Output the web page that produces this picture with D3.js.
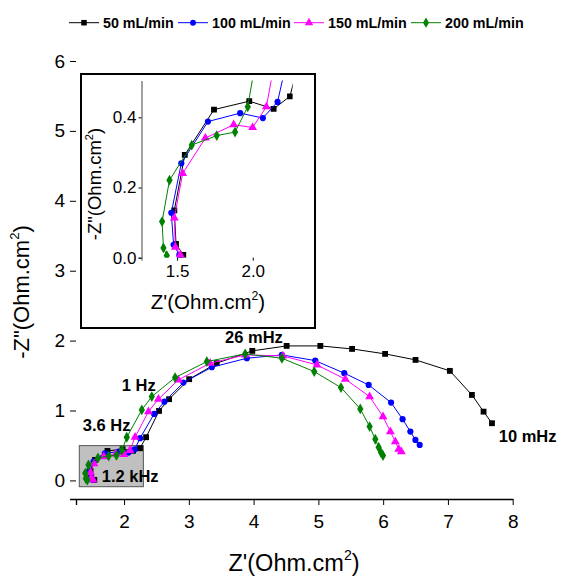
<!DOCTYPE html>
<html lang="en">
  <head>
    <meta charset="utf-8">
    <title>Nyquist plot</title>
    <style>
      body { margin: 0; background: #fff; }
      svg { font-family: Arial, "Liberation Sans", Helvetica, sans-serif; }
    </style>
  </head>
  <body>
    <div class="graph"></div>
    <script src="https://d3js.org/d3.v7.min.js"></script>
    <script>
      // flow rates
      var seriesNames = ['50 mL/min', '100 mL/min', '150 mL/min', '200 mL/min'];
      var seriesColors = ['#000000', '#0000ff', '#ff00ff', '#008000'];
      var seriesSymbols = [d3.symbolSquare, d3.symbolCircle, d3.symbolTriangle, d3.symbolDiamond];

      // Z' and -Z'' (Ohm.cm2), high frequency first
      var zre50 = [1.541, 1.493, 1.482, 1.551, 1.744, 1.977, 2.138, 2.246, 2.34, 2.54, 2.695, 3.005, 3.43, 3.98, 4.51, 5.03, 5.52, 6.03, 6.50, 7.03, 7.37, 7.55, 7.68];
      var zim50 = [0.008, 0.039, 0.135, 0.293, 0.422, 0.446, 0.424, 0.460, 0.618, 0.994, 1.162, 1.448, 1.677, 1.853, 1.924, 1.924, 1.881, 1.810, 1.724, 1.567, 1.223, 0.984, 0.818];
      var zre100 = [1.515, 1.477, 1.462, 1.528, 1.704, 1.917, 2.067, 2.164, 2.247, 2.464, 2.623, 2.916, 3.355, 3.896, 4.437, 4.952, 5.40, 5.776, 6.122, 6.30, 6.42, 6.498, 6.564];
      var zim100 = [0.008, 0.037, 0.128, 0.269, 0.388, 0.412, 0.398, 0.444, 0.604, 0.951, 1.127, 1.399, 1.619, 1.748, 1.795, 1.714, 1.534, 1.366, 1.113, 0.876, 0.698, 0.579, 0.508];
      var zre150 = [1.522, 1.489, 1.482, 1.537, 1.687, 1.874, 1.999, 2.090, 2.17, 2.376, 2.53, 2.839, 3.329, 3.87, 4.453, 4.978, 5.416, 5.791, 5.998, 6.111, 6.188, 6.24, 6.281];
      var zim150 = [0.008, 0.030, 0.113, 0.240, 0.341, 0.379, 0.371, 0.430, 0.618, 0.984, 1.162, 1.438, 1.677, 1.795, 1.781, 1.652, 1.448, 1.199, 0.913, 0.698, 0.555, 0.446, 0.412];
      var zre200 = [1.432, 1.410, 1.401, 1.450, 1.597, 1.762, 1.883, 1.967, 2.042, 2.274, 2.428, 2.788, 3.278, 3.87, 4.437, 4.936, 5.349, 5.647, 5.791, 5.879, 5.93, 5.967, 5.998];
      var zim200 = [0.006, 0.028, 0.103, 0.221, 0.321, 0.348, 0.358, 0.430, 0.618, 1.009, 1.199, 1.471, 1.700, 1.810, 1.748, 1.557, 1.328, 1.023, 0.770, 0.589, 0.475, 0.398, 0.355];

      var xTicks = [2, 3, 4, 5, 6, 7, 8];
      var yTicks = [0, 1, 2, 3, 4, 5, 6];
      var insetXTicks = [1.5, 2.0];
      var insetYTicks = [0.0, 0.2, 0.4];

      // frequency labels: text, Z', -Z''
      var freqLabels = ['26 mHz', '1 Hz', '3.6 Hz', '1.2 kHz', '10 mHz'];
      var freqX = [3.56, 1.964, 1.362, 1.655, 7.785];
      var freqY = [1.967, 1.285, 0.708, -0.017, 0.548];

      // zoomed region marked on the main plot
      var boxX = [1.309, 2.298];
      var boxY = [-0.09, 0.498];

      var series = [
        { x: zre50, y: zim50 },
        { x: zre100, y: zim100 },
        { x: zre150, y: zim150 },
        { x: zre200, y: zim200 }
      ].map(function(s, i) {
        return {
          name: seriesNames[i], color: seriesColors[i], symbol: seriesSymbols[i],
          points: s.x.map(function(v, j) { return [v, s.y[j]]; })
        };
      });

      var symbolSize = [34, 30, 34, 34];

      var width = 584, height = 577;
      var svg = d3.select('.graph').append('svg')
                  .attr('width', width)
                  .attr('height', height);

      function sup(sel, before, after, size) {
        sel.append('tspan').text(before);
        sel.append('tspan').attr('dy', -size * 0.45).attr('font-size', size * 0.6).text('2');
        sel.append('tspan').attr('dy', size * 0.45).text(after);
      }

      function drawSeries(g, x, y) {
        var line = d3.line().x(function(d) { return x(d[0]); }).y(function(d) { return y(d[1]); });
        series.forEach(function(s, i) {
          g.append('path')
           .attr('d', line(s.points))
           .attr('fill', 'none')
           .attr('stroke', s.color)
           .attr('stroke-width', 1);
          g.selectAll('.m' + i)
           .data(s.points)
           .enter()
           .append('path')
           .attr('class', 'm' + i)
           .attr('d', d3.symbol().type(s.symbol).size(symbolSize[i]))
           .attr('transform', function(d) { return 'translate(' + x(d[0]) + ',' + y(d[1]) + ')'; })
           .attr('fill', s.color);
        });
      }

      // ---- main plot
      var x = d3.scaleLinear().domain([1.258, 8]).range([76, 512.7]);
      var y = d3.scaleLinear().domain([-0.266, 6]).range([499, 61]);

      var main = svg.append('g');

      main.append('rect')
          .attr('x', x(boxX[0])).attr('y', y(boxY[1]))
          .attr('width', x(boxX[1]) - x(boxX[0]))
          .attr('height', y(boxY[0]) - y(boxY[1]))
          .attr('fill', '#c0c0c0')
          .attr('stroke', '#555')
          .attr('stroke-width', 1);

      drawSeries(main.append('g'), x, y);

      var xAxis = main.append('g').attr('transform', 'translate(0,' + y.range()[0] + ')');
      xAxis.call(d3.axisBottom(x).tickValues(d3.range(1.5, 8.01, 0.5)).tickSize(4).tickFormat(''));
      xAxis.call(d3.axisBottom(x).tickValues(xTicks).tickSize(6).tickFormat(d3.format('d')).tickPadding(10));
      xAxis.selectAll('text').attr('font-size', 19).attr('fill', '#000').attr('font-family', null);

      var yAxis = main.append('g').attr('transform', 'translate(' + x.range()[0] + ',0)');
      yAxis.call(d3.axisLeft(y).tickValues(d3.range(0.5, 6, 0.5)).tickSize(4).tickFormat(''));
      yAxis.call(d3.axisLeft(y).tickValues(yTicks).tickSize(6).tickFormat(d3.format('d')).tickPadding(5));
      yAxis.selectAll('text').attr('font-size', 19).attr('fill', '#000').attr('font-family', null);
      main.selectAll('.domain').attr('stroke-width', 1.3).attr('d', function() {
        return d3.select(this).attr('d').replace(/V6|V-6|H-6|H6/g, '');
      });

      var xTitle = main.append('text').attr('x', 294).attr('y', 571)
                       .attr('text-anchor', 'middle').attr('font-size', 23.5);
      sup(xTitle, "Z'(Ohm.cm", ')', 23.5);

      var yTitle = main.append('text').attr('transform', 'translate(29,292) rotate(-90)')
                       .attr('text-anchor', 'middle').attr('font-size', 22);
      sup(yTitle, '-Z"(Ohm.cm', ')', 22);

      main.selectAll('.freq')
          .data(freqLabels)
          .enter()
          .append('text')
          .attr('class', 'freq')
          .attr('x', function(d, i) { return x(freqX[i]); })
          .attr('y', function(d, i) { return y(freqY[i]); })
          .attr('font-size', 16.5)
          .attr('font-weight', 'bold')
          .text(function(d) { return d; });

      // ---- inset
      svg.append('rect')
         .attr('x', 81).attr('y', 74).attr('width', 234).attr('height', 254)
         .attr('fill', '#fff').attr('stroke', '#000').attr('stroke-width', 2);

      var ix = d3.scaleLinear().domain([1.265, 2.264]).range([141.5, 292.7]);
      var iy = d3.scaleLinear().domain([0, 0.505]).range([257.7, 80.5]);

      svg.append('clipPath').attr('id', 'insetClip')
         .append('rect')
         .attr('x', ix.range()[0]).attr('y', iy.range()[1])
         .attr('width', ix.range()[1] - ix.range()[0])
         .attr('height', iy.range()[0] - iy.range()[1]);

      var inset = svg.append('g');
      drawSeries(inset.append('g').attr('clip-path', 'url(#insetClip)'), ix, iy);

      var ixAxis = inset.append('g').attr('transform', 'translate(0,' + iy.range()[0] + ')');
      ixAxis.call(d3.axisBottom(ix).tickValues([1.75]).tickSize(2).tickFormat(''));
      ixAxis.call(d3.axisBottom(ix).tickValues(insetXTicks).tickSize(3).tickFormat(d3.format('.1f')).tickPadding(4));
      ixAxis.selectAll('text').attr('font-size', 17).attr('fill', '#000').attr('font-family', null);

      var iyAxis = inset.append('g').attr('transform', 'translate(' + ix.range()[0] + ',0)');
      iyAxis.call(d3.axisLeft(iy).tickValues([0.1, 0.3, 0.5]).tickSize(2).tickFormat(''));
      iyAxis.call(d3.axisLeft(iy).tickValues(insetYTicks).tickSize(3).tickFormat(d3.format('.1f')).tickPadding(2));
      iyAxis.selectAll('text').attr('font-size', 17).attr('fill', '#000').attr('font-family', null);
      inset.selectAll('.domain').attr('stroke', '#444').attr('d', function() {
        return d3.select(this).attr('d').replace(/V3|V-3|H-3|H3|V2|V-2|H-2|H2/g, '');
      });

      var ixTitle = inset.append('text').attr('x', 208).attr('y', 309)
                         .attr('text-anchor', 'middle').attr('font-size', 20.5);
      sup(ixTitle, "Z'(Ohm.cm", ')', 20.5);

      var iyTitle = inset.append('text').attr('transform', 'translate(101,184) rotate(-90)')
                         .attr('text-anchor', 'middle').attr('font-size', 18.5);
      sup(iyTitle, '-Z"(Ohm.cm', ')', 18.5);

      // ---- legend
      var legendX = [69, 178, 294, 411];
      var legend = svg.append('g').attr('transform', 'translate(0,22.7)');
      series.forEach(function(s, i) {
        var g = legend.append('g').attr('transform', 'translate(' + legendX[i] + ',0)');
        g.append('line').attr('x1', 0).attr('x2', 30).attr('stroke', s.color).attr('stroke-width', 1);
        g.append('path').attr('d', d3.symbol().type(s.symbol).size(symbolSize[i] * 0.9))
         .attr('transform', 'translate(15,0)').attr('fill', s.color);
        g.append('text').attr('x', 34).attr('y', 5).attr('font-size', 14.3).attr('font-weight', 'bold')
         .text(s.name);
      });
    </script>
  </body>
</html>
